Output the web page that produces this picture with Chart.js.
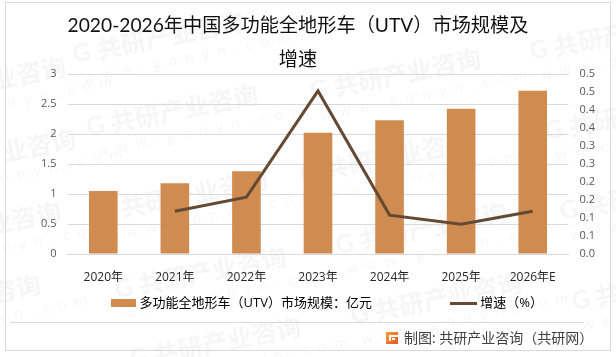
<!DOCTYPE html>
<html>
<head>
<meta charset="utf-8">
<script src="https://cdn.jsdelivr.net/npm/chart.js@4"></script>
<style>
html, body { margin: 0; padding: 0; background: #fff; }
#wrap { width: 616px; height: 357px; }
</style>
</head>
<body>
<div id="wrap"><canvas id="chart"></canvas></div>
<script>
const categories = ['2020年', '2021年', '2022年', '2023年', '2024年', '2025年', '2026年E'];
const marketSize = [1.05, 1.18, 1.38, 2.02, 2.23, 2.42, 2.72];
const growthRate = [null, 0.119, 0.158, 0.453, 0.108, 0.083, 0.119];
const leftTicks = [0, 0.5, 1, 1.5, 2, 2.5, 3];
const leftTickLabels = ['0', '0.5', '1', '1.5', '2', '2.5', '3'];
const rightTicks = [0, 0.05, 0.1, 0.15, 0.2, 0.25, 0.3, 0.35, 0.4, 0.45, 0.5];
const rightTickLabels = ['0.0', '0.1', '0.1', '0.2', '0.2', '0.3', '0.3', '0.4', '0.4', '0.5', '0.5'];
const titleLines = ['2020-2026年中国多功能全地形车（UTV）市场规模及', '增速'];
const barLabel = '多功能全地形车（UTV）市场规模：亿元';
const lineLabel = '增速（%）';
const footerText = '制图: 共研产业咨询（共研网）';

const cjk = '"Noto Sans CJK SC"';
const barColor = '#d08c50';
const lineColor = '#654a33';
const gridColor = '#d9d9d9';

// [x, y] where each faint watermark starts
const watermarks = [
  [-105, 100], [-95, 172], [-110, 245], [-130, 318],
  [73, 55], [87, 128], [97, 213], [115, 290], [130, 360],
  [310, 92], [300, 175], [336, 246], [351, 316],
  [530, 52], [545, 132], [560, 212], [572, 302]
];

// legend swatches are a bit wider than the box Chart.js reserves, so the text sits closer
function swatch(w, h, color) {
  const c = document.createElement('canvas');
  c.width = w;
  c.height = h;
  const x = c.getContext('2d');
  x.fillStyle = color;
  x.fillRect(0, 0, w, h);
  return c;
}

const backdrop = {
  id: 'backdrop',
  afterLayout(chart) {
    // legend sits a little right of the plot centre
    chart.legend.left += 10;
    chart.legend.right += 10;
  },
  beforeDraw(chart) {
    const ctx = chart.ctx;
    ctx.save();
    ctx.fillStyle = '#fff';
    ctx.fillRect(0, 0, 616, 357);
    watermarks.forEach(([x, y]) => {
      ctx.save();
      ctx.translate(x, y);
      ctx.rotate(-0.2);
      ctx.fillStyle = '#f6f6f6';
      ctx.font = 'bold 25px Lato';
      ctx.textBaseline = 'middle';
      ctx.fillText('G', 0, 0);
      ctx.font = 'bold 25px ' + cjk;
      ctx.fillText('共研产业咨询', 24, 0);
      ctx.font = '14px "Open Sans"';
      ctx.letterSpacing = '8.5px';
      ctx.fillText('www.gonyn.com', 6, 26);
      ctx.restore();
    });
    ctx.strokeStyle = gridColor;
    ctx.lineWidth = 1;
    ctx.strokeRect(5.5, 2.5, 605, 348);
    ctx.beginPath();
    ctx.moveTo(10, 322.5);
    ctx.lineTo(584, 322.5);
    ctx.stroke();
    ctx.restore();
  },
  afterDraw(chart) {
    const ctx = chart.ctx;
    ctx.save();
    // little logo beside the source line
    const g = ctx.createLinearGradient(386, 332, 398, 344);
    g.addColorStop(0, '#f7a030');
    g.addColorStop(1, '#e8552a');
    ctx.fillStyle = g;
    ctx.fillRect(386, 332, 12, 12);
    ctx.fillStyle = '#fff';
    ctx.fillRect(389, 335, 9, 2);
    ctx.fillRect(389, 337, 2, 4);
    ctx.fillRect(392, 338, 3, 2);
    ctx.fillStyle = '#404040';
    ctx.font = '14px "Open Sans", ' + cjk;
    ctx.textBaseline = 'middle';
    ctx.fillText(footerText, 404, 339);
    ctx.restore();
  }
};

new Chart(document.getElementById('chart'), {
  data: {
    labels: categories,
    datasets: [
      {
        type: 'line',
        label: lineLabel,
        data: growthRate,
        yAxisID: 'yRight',
        borderColor: lineColor,
        backgroundColor: lineColor,
        borderWidth: 3,
        pointRadius: 0,
        tension: 0,
        order: 0
      },
      {
        type: 'bar',
        label: barLabel,
        data: marketSize,
        yAxisID: 'yLeft',
        backgroundColor: barColor,
        categoryPercentage: 1,
        barPercentage: 0.4,
        order: 1
      }
    ]
  },
  options: {
    responsive: true,
    maintainAspectRatio: false,
    animation: false,
    layout: { padding: { left: 0, right: 20, top: 0, bottom: 37.5 } },
    plugins: {
      title: {
        display: true,
        text: titleLines,
        color: '#111',
        font: { family: 'Lato, ' + cjk, size: 19.2, weight: 'normal', lineHeight: 34 / 19.2 },
        padding: { top: 9, bottom: -3 }
      },
      legend: {
        position: 'bottom',
        fullSize: false,
        labels: {
          usePointStyle: true,
          pointStyleWidth: 20,
          boxHeight: 8,
          padding: 10,
          color: '#262626',
          font: { family: '"Open Sans", ' + cjk, size: 13 },
          generateLabels() {
            return [
              { text: barLabel + '　　　　　  ', pointStyle: swatch(25, 8, barColor), fillStyle: barColor, strokeStyle: barColor, lineWidth: 0 },
              { text: lineLabel, pointStyle: swatch(27, 3, lineColor), fillStyle: lineColor, strokeStyle: lineColor, lineWidth: 0 }
            ];
          }
        }
      },
      tooltip: { enabled: false }
    },
    scales: {
      x: {
        grid: { display: false, drawTicks: false },
        border: { color: gridColor },
        ticks: { color: '#262626', padding: 16, maxRotation: 0, autoSkip: false, font: { family: '"Open Sans", ' + cjk, size: 12 } },
        afterFit(scale) { scale.height = 32.5; }
      },
      yLeft: {
        position: 'left',
        min: 0,
        max: 3,
        grid: { color: gridColor, drawTicks: false },
        border: { display: false },
        ticks: {
          color: '#595959',
          padding: 11,
          font: { family: '"Open Sans"', size: 11 },
          callback(value, index) { return leftTickLabels[index]; }
        },
        afterBuildTicks(scale) { scale.ticks = leftTicks.map(value => ({ value })); },
        afterFit(scale) { scale.width = 67.5; }
      },
      yRight: {
        position: 'right',
        min: 0,
        max: 0.5,
        grid: { display: false, drawTicks: false },
        border: { display: false },
        ticks: {
          color: '#595959',
          padding: 11,
          font: { family: '"Open Sans"', size: 11 },
          callback(value, index) { return rightTickLabels[index]; }
        },
        afterBuildTicks(scale) { scale.ticks = rightTicks.map(value => ({ value })); },
        afterFit(scale) { scale.width = 27.5; }
      }
    }
  },
  plugins: [backdrop]
});
</script>
</body>
</html>
